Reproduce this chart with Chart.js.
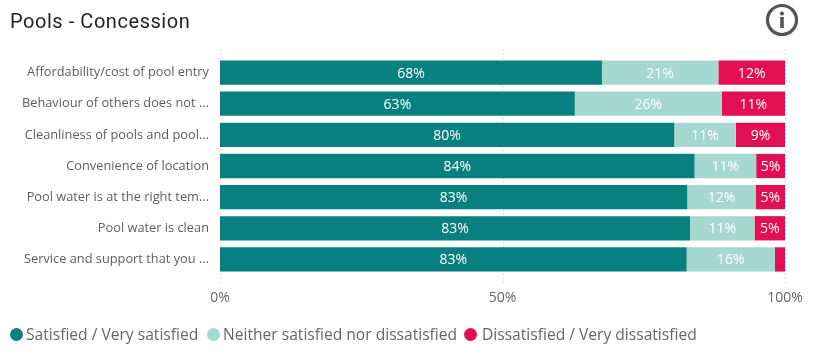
<!DOCTYPE html>
<html>
<head>
<meta charset="utf-8">
<style>
  html, body { margin: 0; padding: 0; background: #fff; }
  #wrap { position: relative; width: 816px; height: 355px; overflow: hidden; }
  #title { position: absolute; left: 10px; top: 7px; font: 20px/28px Roboto, sans-serif; letter-spacing: 0.55px; color: #252423; }
  #info { position: absolute; left: 765px; top: 3px; }
  #legend { position: absolute; left: 0; top: 322px; height: 24px; font: 15.6px/24px "Open Sans", sans-serif; color: #666; white-space: nowrap; }
  #legend span.item { position: absolute; top: 0; }
  #legend i { position: absolute; top: 6px; width: 13px; height: 13px; border-radius: 50%; }
</style>
</head>
<body>
<div id="wrap">
  <canvas id="chart" width="816" height="355"></canvas>
  <div id="title">Pools - Concession</div>
  <svg id="info" width="34" height="34" viewBox="0 0 34 34">
    <circle cx="17" cy="17" r="14.5" fill="none" stroke="#555" stroke-width="3.2"/>
    <circle cx="17" cy="10.5" r="2" fill="#555"/>
    <rect x="15.2" y="14" width="3.6" height="11" fill="#555"/>
  </svg>
  <div id="legend"></div>
</div>
<script src="https://cdn.jsdelivr.net/npm/chart.js@4"></script>
<script>
const categories = [
    "Affordability/cost of pool entry",
    "Behaviour of others does not ...",
    "Cleanliness of pools and pool...",
    "Convenience of location",
    "Pool water is at the right tem...",
    "Pool water is clean",
    "Service and support that you ..."
];
const seriesNames = ["Satisfied / Very satisfied", "Neither satisfied nor dissatisfied", "Dissatisfied / Very dissatisfied"];
const satisfied = [67.6, 62.8, 80.4, 84.0, 82.7, 83.2, 82.6];
const neither = [20.6, 26.0, 10.9, 10.9, 12.1, 11.4, 15.6];
const dissatisfied = [11.8, 11.2, 8.7, 5.1, 5.2, 5.4, 1.8];
const xTicks = [0, 50, 100];

const colors = ["#08807f", "#a5d9d0", "#e30f55"];
const legendCircleX = [10, 207, 464];
const legendTextX = [26, 223, 482];

// value labels inside the bars, chart.js has none of its own
const barLabels = {
    id: 'barLabels',
    afterDatasetsDraw(chart) {
        const ctx = chart.ctx;
        ctx.save();
        ctx.font = '14px "Open Sans", sans-serif';
        ctx.fillStyle = '#fff';
        ctx.textAlign = 'center';
        ctx.textBaseline = 'middle';
        chart.data.datasets.forEach((ds, i) => {
            chart.getDatasetMeta(i).data.forEach((bar, j) => {
                if (ds.data[j] < 3) return;
                const c = bar.getCenterPoint();
                ctx.fillText(Math.round(ds.data[j]) + '%', c.x, c.y + 1);
            });
        });
        ctx.restore();
    }
};

// dotted grid, runs a bit past the bars on both ends
const dottedGrid = {
    id: 'dottedGrid',
    beforeDatasetsDraw(chart) {
        const ctx = chart.ctx;
        const area = chart.chartArea;
        ctx.save();
        ctx.strokeStyle = '#c8c8c8';
        ctx.lineWidth = 1;
        ctx.setLineDash([1, 3]);
        xTicks.forEach(t => {
            const x = Math.round(chart.scales.x.getPixelForValue(t)) + 0.5;
            ctx.beginPath();
            ctx.moveTo(x, area.top - 7);
            ctx.lineTo(x, area.bottom + 10);
            ctx.stroke();
        });
        ctx.restore();
    }
};

new Chart(document.getElementById('chart'), {
    type: 'bar',
    data: {
        labels: categories,
        datasets: [satisfied, neither, dissatisfied].map((d, i) => ({
            label: seriesNames[i],
            data: d,
            backgroundColor: colors[i],
            borderWidth: 0,
            barPercentage: 0.78,
            categoryPercentage: 1.0
        }))
    },
    options: {
        indexAxis: 'y',
        responsive: false,
        animation: false,
        layout: { padding: { top: 57, right: 31, left: 0, bottom: 0 } },
        scales: {
            x: {
                stacked: true,
                min: 0,
                max: 100,
                afterBuildTicks: axis => { axis.ticks = xTicks.map(v => ({ value: v })); },
                afterFit: axis => { axis.height = 80; },
                grid: { display: false },
                border: { display: false },
                ticks: {
                    maxRotation: 0,
                    padding: 7,
                    color: '#666',
                    font: { family: '"Open Sans", sans-serif', size: 14 },
                    callback: v => v + '%'
                }
            },
            y: {
                stacked: true,
                afterFit: axis => { axis.width = 220; },
                grid: { display: false },
                border: { display: false },
                ticks: {
                    autoSkip: false,
                    padding: 3,
                    color: '#605e5c',
                    font: { family: '"Open Sans", sans-serif', size: 12.8 }
                }
            }
        },
        plugins: { legend: { display: false }, tooltip: { enabled: false }, title: { display: false } }
    },
    plugins: [dottedGrid, barLabels]
});

const legend = document.getElementById('legend');
seriesNames.forEach((name, i) => {
    const dot = document.createElement('i');
    dot.style.left = legendCircleX[i] + 'px';
    dot.style.background = colors[i];
    legend.appendChild(dot);
    const item = document.createElement('span');
    item.className = 'item';
    item.style.left = legendTextX[i] + 'px';
    item.textContent = name;
    legend.appendChild(item);
});
</script>
</body>
</html>
